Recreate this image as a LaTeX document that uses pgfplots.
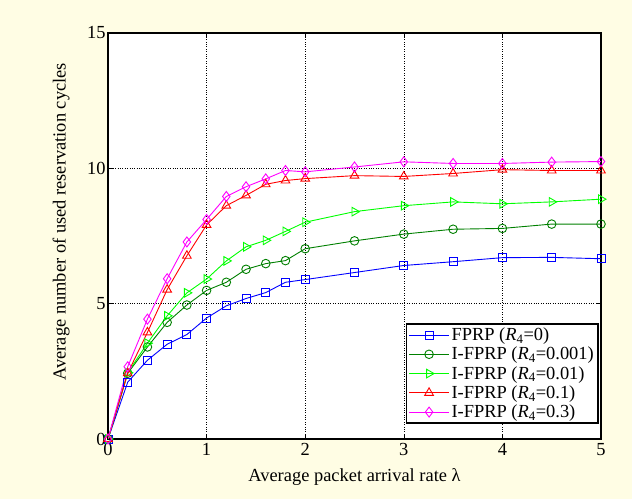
\documentclass[border=0pt]{standalone}
\usepackage{fontspec}
\setmainfont{Liberation Serif}
\usepackage{pgfplots}
\pgfplotsset{compat=1.18}
\definecolor{bg}{RGB}{255,253,228}
\definecolor{dgreen}{RGB}{0,128,0}
\definecolor{bgreen}{RGB}{0,255,0}
\definecolor{mag}{RGB}{255,0,255}
\definecolor{rred}{RGB}{255,0,0}
\definecolor{bblue}{RGB}{0,0,255}
\begin{document}
\begin{tikzpicture}
\fill[bg] (0,0) rectangle (632bp,499bp);
\begin{axis}[at={(108bp,60bp)}, anchor=south west, scale only axis,
  width=493bp, height=406bp,
  xmin=0, xmax=5, ymin=0, ymax=15,
  xtick={0,1,2,3,4,5}, ytick={0,5,10,15},
  axis background/.style={fill=white},
  grid=major, grid style={black, dotted, line width=0.6bp},
  tick align=inside, major tick length=5bp, tick style={black, line width=0.6bp},
  axis line style={black, line width=1.5bp},
  ticklabel style={font=\fontsize{18.5}{18.5}\selectfont},
  xticklabel style={yshift=-1bp},
  yticklabel style={xshift=1bp},
  /pgf/number format/assume math mode=true,
  xlabel={Average packet arrival rate λ},
  ylabel={Average number of used reservation cycles},
  label style={font=\fontsize{18.5}{18.5}\selectfont},
  xlabel style={at={(axis description cs:0.5,-0.094)}, anchor=center},
  ylabel style={at={(axis description cs:-0.095,0.535)}, anchor=center},
  legend style={at={(0.995,0.037)}, anchor=south east, draw=black, line width=1.5bp,
    fill=white, font=\fontsize{18.5}{20}\selectfont, inner sep=2bp, row sep=1bp},
  legend cell align=left,
  legend image code/.code={\draw[mark repeat=2,mark phase=2,#1] plot coordinates {(0bp,0bp)(20bp,0bp)(40bp,0bp)};},
  every axis plot/.append style={line width=0.9bp},
]
\addplot[bblue, mark=square, mark size=4bp, mark options={solid}] coordinates {
(0,0) (0.2,2.10) (0.4,2.91) (0.6,3.50) (0.8,3.86) (1.0,4.47) (1.2,4.92) (1.4,5.19) (1.6,5.41) (1.8,5.79) (2.0,5.89) (2.5,6.15) (3,6.41) (3.5,6.55) (4,6.70) (4.5,6.71) (5,6.66)};
\addlegendentry{FPRP (\textit{R}\textsubscript{4}=0)}
\addplot[dgreen, mark=o, mark size=4.3bp] coordinates {
(0,0) (0.2,2.43) (0.4,3.40) (0.6,4.31) (0.8,4.95) (1.0,5.49) (1.2,5.79) (1.4,6.27) (1.6,6.48) (1.8,6.59) (2.0,7.03) (2.5,7.32) (3,7.57) (3.5,7.75) (4,7.78) (4.5,7.94) (5,7.94)};
\addlegendentry{I-FPRP (\textit{R}\textsubscript{4}=0.001)}
\addplot[bgreen, mark=triangle, mark size=5bp, mark options={rotate=-90}] coordinates {
(0,0) (0.2,2.45) (0.4,3.54) (0.6,4.55) (0.8,5.40) (1.0,5.91) (1.2,6.58) (1.4,7.10) (1.6,7.34) (1.8,7.67) (2.0,8.01) (2.5,8.40) (3,8.62) (3.5,8.76) (4,8.69) (4.5,8.76) (5,8.86)};
\addlegendentry{I-FPRP (\textit{R}\textsubscript{4}=0.01)}
\addplot[rred, mark=triangle, mark size=5bp] coordinates {
(0,0) (0.2,2.43) (0.4,3.94) (0.6,5.52) (0.8,6.77) (1.0,7.91) (1.2,8.62) (1.4,9.00) (1.6,9.41) (1.8,9.55) (2.0,9.62) (2.5,9.73) (3,9.70) (3.5,9.81) (4,9.95) (4.5,9.92) (5,9.92)};
\addlegendentry{I-FPRP (\textit{R}\textsubscript{4}=0.1)}
\addplot[mag, mark=diamond, mark size=5bp] coordinates {
(0,0) (0.2,2.67) (0.4,4.43) (0.6,5.92) (0.8,7.28) (1.0,8.11) (1.2,8.96) (1.4,9.32) (1.6,9.61) (1.8,9.92) (2.0,9.87) (2.5,10.05) (3,10.24) (3.5,10.18) (4,10.18) (4.5,10.23) (5,10.25)};
\addlegendentry{I-FPRP (\textit{R}\textsubscript{4}=0.3)}
\end{axis}
\end{tikzpicture}
\end{document}
